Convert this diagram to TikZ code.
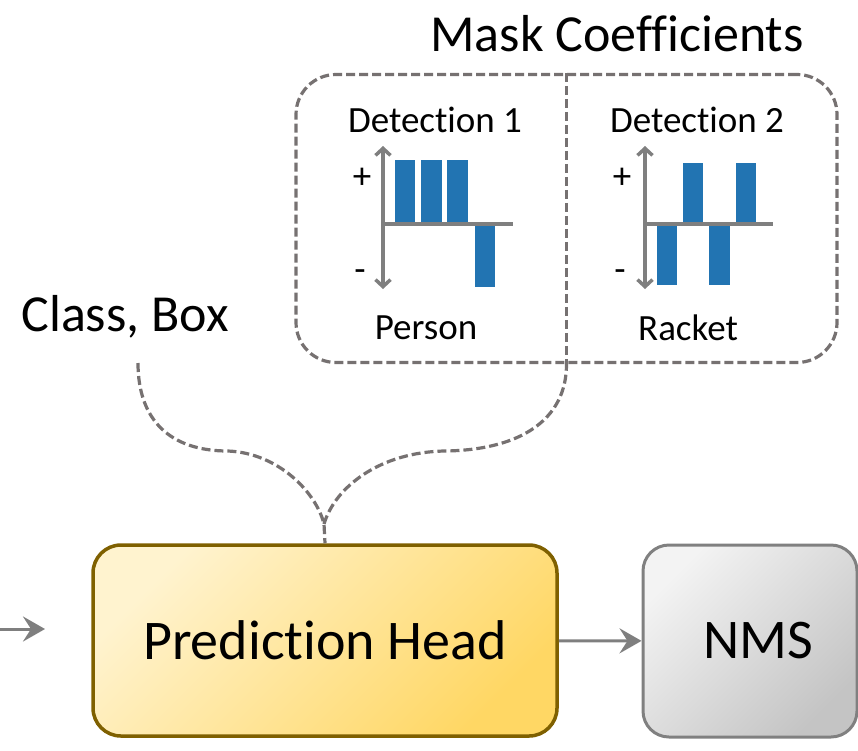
\documentclass[tikz,border=0pt]{standalone}
\usepackage{fontspec}
\setmainfont{Carlito}[Ligatures={NoCommon}]
\usetikzlibrary{arrows.meta}
\definecolor{dashgray}{RGB}{118,113,113}
\definecolor{axisgray}{RGB}{127,127,127}
\definecolor{barblue}{RGB}{34,116,178}
\definecolor{phborder}{RGB}{127,96,0}
\definecolor{phlight}{RGB}{255,243,207}
\definecolor{phdark}{RGB}{255,215,100}
\definecolor{nmslight}{RGB}{243,243,243}
\definecolor{nmsdark}{RGB}{196,196,196}
\definecolor{nmsborder}{RGB}{128,128,128}
\begin{document}
\begin{tikzpicture}[x=1pt,y=-1pt,
  dashline/.style={draw=dashgray, line width=3.2pt, dash pattern=on 9pt off 4pt},
  axisline/.style={draw=axisgray, line width=3.5pt},
  axisarrows/.style={{Straight Barb[length=7pt,width=15pt]}-{Straight Barb[length=7pt,width=15pt]}},
  barbox/.style={fill=barblue, draw=none},
  small/.style={font=\fontsize{37}{44}\selectfont, inner sep=0pt},
  big/.style={font=\fontsize{52}{60}\selectfont, inner sep=0pt},
  flowarrow/.style={draw=axisgray, line width=3pt, -{Stealth[length=22pt,width=25pt,inset=8pt]}},
  phbox/.style={draw=phborder, line width=3.5pt, rounded corners=28pt,
    top color=phlight, bottom color=phdark, shading angle=45,
    minimum width=464pt, minimum height=191pt, inner sep=0pt,
    font=\fontsize{56}{64}\selectfont},
  nmsbox/.style={draw=nmsborder, line width=3pt, rounded corners=26pt,
    top color=nmslight, bottom color=nmsdark, shading angle=45,
    minimum width=214pt, minimum height=192pt, inner sep=0pt,
    font=\fontsize{56}{64}\selectfont},
  maskbox/.style={dashline, rounded corners=40pt, minimum width=541pt, minimum height=288pt, inner sep=0pt}
]
\useasboundingbox (0,0) rectangle (858,750);

% main boxes
\node[phbox] (ph) at (325,640.5) {Prediction Head};
\node[nmsbox] (nms) at (750,641) {\hspace*{16pt}NMS};

% mask coefficient box
\node[maskbox] (mask) at (566.5,218.5) {};
\draw[dashline] (mask.north) -- (mask.south);

% titles
\node[big] (masktitle) at (617,34) {Mask Coefficients};
\node[big] (classbox) at (125,317) {Class, Box};

% detection labels
\node[small] (det1) at (435,120) {Detection 1};
\node[small] (det2) at (697,120) {Detection 2};
\node[small] (person) at (426,328) {Person};
\node[small] (racket) at (688,328) {Racket};
\node[small] (plus1) at (362,178) {+};
\node[small] (minus1) at (360,276) {-};
\node[small] (plus2) at (622,178) {+};
\node[small] (minus2) at (620,276) {-};

% chart 1 bars
\fill[barbox] (395,160) rectangle (415,224);
\fill[barbox] (421,160) rectangle (442,224);
\fill[barbox] (447,160) rectangle (468,224);
\fill[barbox] (475,224) rectangle (495,287);
% chart 1 axes
\draw[axisline, axisarrows] (383,146) -- (383,289);
\draw[axisline] (383,224) -- (513,224);

% chart 2 bars
\fill[barbox] (657,224) rectangle (677,285);
\fill[barbox] (683,163) rectangle (703,224);
\fill[barbox] (709,224) rectangle (730,285);
\fill[barbox] (736,163) rectangle (756,224);
% chart 2 axes
\draw[axisline, axisarrows] (645,146) -- (645,289);
\draw[axisline] (645,224) -- (773,224);

% curly brace
\coordinate (braceL) at (138,363);
\coordinate (tip) at (324,524);
\draw[dashline] (braceL) .. controls (138,420) and (170,451) .. (228,451)
  .. controls (278,453) and (316,492) .. (tip) -- (ph.north);
\draw[dashline] (tip) .. controls (335,487) and (380,452) .. (445,451)
  .. controls (520,450) and (566.5,420) .. (mask.south);

% flow arrows
\coordinate (inStart) at (-5,629);
\coordinate (inEnd) at (45,629);
\draw[flowarrow] (inStart) -- (inEnd);
\draw[flowarrow] (ph) -- (nms);
\end{tikzpicture}
\end{document}
